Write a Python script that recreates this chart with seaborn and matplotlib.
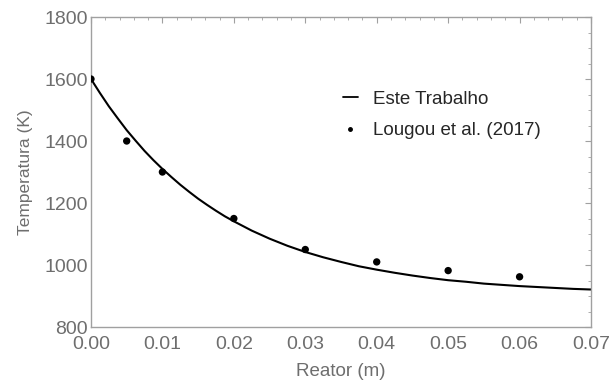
import matplotlib
matplotlib.use("Agg")
import matplotlib.pyplot as plt
from matplotlib.lines import Line2D
from matplotlib.ticker import MultipleLocator, FormatStrFormatter
import seaborn as sns
import pandas as pd

# Model curve
curve_x = [0.0, 0.00125, 0.0025, 0.00375, 0.005, 0.00625, 0.0075, 0.00875, 0.01,
           0.01125, 0.0125, 0.01375, 0.015, 0.01625, 0.0175, 0.01875, 0.02,
           0.0225, 0.025, 0.0275, 0.03, 0.0325, 0.035, 0.0375, 0.04, 0.0425,
           0.045, 0.0475, 0.05, 0.0525, 0.055, 0.0575, 0.06, 0.0625, 0.065,
           0.0675, 0.07]
curve_T = [1600, 1555, 1512, 1473, 1435, 1401, 1368, 1338, 1310,
           1284, 1259, 1236, 1214, 1194, 1175, 1157, 1141,
           1111, 1085, 1062, 1042, 1025, 1010, 996, 985, 975,
           966, 958, 951, 946, 940, 936, 932, 929, 926,
           923, 921]

# Reference data points
ref_x = [0.0, 0.005, 0.01, 0.02, 0.03, 0.04, 0.05, 0.06]
ref_T = [1600, 1400, 1300, 1150, 1050, 1010, 982, 962]

sns.set_theme(style="white")
plt.rcParams['font.family'] = ['Liberation Sans', 'DejaVu Sans']

fig = plt.figure(figsize=(6.11, 3.84), dpi=100)
ax = fig.add_axes([0.1489, 0.1484, 0.8184, 0.8073])

df_c = pd.DataFrame({"x": curve_x, "T": curve_T})
df_r = pd.DataFrame({"x": ref_x, "T": ref_T})
sns.lineplot(data=df_c, x="x", y="T", ax=ax, color="black", linewidth=1.5, sort=True)
ax.lines[-1].set_solid_joinstyle('round')
sns.scatterplot(data=df_r, x="x", y="T", ax=ax, color="black", s=28, edgecolor="none",
                zorder=3)

ax.set_xlim(0, 0.07)
ax.set_ylim(800, 1800)
ax.xaxis.set_major_locator(MultipleLocator(0.01))
ax.xaxis.set_minor_locator(MultipleLocator(0.002))
ax.yaxis.set_major_locator(MultipleLocator(200))
ax.yaxis.set_minor_locator(MultipleLocator(50))
ax.xaxis.set_major_formatter(FormatStrFormatter('%.2f'))

frame_col = "#a0a0a0"
txt_col = "#6e6e6e"
for s in ax.spines.values():
    s.set_color(frame_col)
    s.set_linewidth(1.0)
ax.tick_params(which='both', direction='in', top=True, right=True, color=frame_col,
               labelcolor=txt_col, labelsize=14)
ax.tick_params(which='major', length=4.5, width=0.8)
ax.tick_params(which='minor', length=2.5, width=0.6)
ax.tick_params(axis='x', pad=6.5)
ax.tick_params(axis='y', pad=2)

ax.set_xlabel("Reator (m)", fontsize=13.5, color=txt_col, labelpad=7)
ax.set_ylabel("Temperatura (K)", fontsize=12.5, color=txt_col, labelpad=8)

handles = [Line2D([0], [0], color='black', lw=1.3),
           Line2D([0], [0], color='black', lw=0, marker='o', markersize=2.5)]
ax.legend(handles, ["Este Trabalho", "Lougou et al. (2017)"], loc='center left',
          bbox_to_anchor=(0.504, 0.684), frameon=False, fontsize=13.5,
          handlelength=0.8, handletextpad=0.8, labelspacing=0.75,
          borderpad=0, borderaxespad=0)

fig.savefig("out.png", dpi=100)
